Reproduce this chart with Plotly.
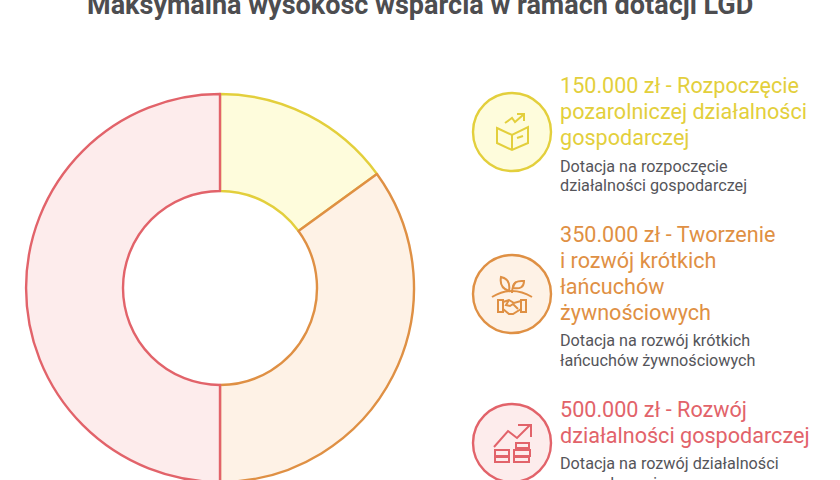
import plotly.graph_objects as go

# ---- data ----
categories = ["Rozpoczęcie pozarolniczej działalności gospodarczej",
              "Tworzenie i rozwój krótkich łańcuchów żywnościowych",
              "Rozwój działalności gospodarczej"]
values = [150000, 350000, 500000]
line_colors = ["#e3cf3c", "#df9044", "#e2636a"]
fill_colors = ["#fefcdc", "#fef2e6", "#fdecec"]
title_text = "Maksymalna wysokość wsparcia w ramach dotacji LGD"
heading_lines = [
    ["150.000 zł - Rozpoczęcie", "pozarolniczej działalności", "gospodarczej"],
    ["350.000 zł - Tworzenie", "i rozwój krótkich", "łańcuchów", "żywnościowych"],
    ["500.000 zł - Rozwój", "działalności gospodarczej"],
]
heading_y = [[85, 111, 137], [234, 260, 286, 312], [409, 435]]
desc_lines = [
    ["Dotacja na rozpoczęcie", "działalności gospodarczej"],
    ["Dotacja na rozwój krótkich", "łańcuchów żywnościowych"],
    ["Dotacja na rozwój działalności", "gospodarczej"],
]
desc_y = [[166, 185], [340, 360], [463, 483]]
circle_y = [132, 294, 443]

# icon outlines (decorative line-art, in pixel space of the invisible axes)
icon_paths = [
    [  # box with rising arrow
        "M497,128 L512,135 L528,127 L528,143 L512,150 L497,143 Z",
        "M512,135 L512,150",
        "M517,138 L523,136",
        "M505,123 L512,118 L515,122 L523,115",
        "M517,114 L524,114 L524,121",
    ],
    [  # sprout over handshake
        "M492,297 Q512,285 532,297",
        "M512,293 Q512,286 516,282",
        "M509,291 Q499,288 501,277 Q511,279 509,291 Z",
        "M513,288 Q513,280 524,281 Q524,290 513,288 Z",
        "M498,300 L503,300 L503,312 L498,312 Z",
        "M521,300 L526,300 L526,312 L521,312 Z",
        "M503,302 L509,300 L514,303 L521,301",
        "M503,309 L509,314 L513,314 L521,309",
        "M509,300 L506,305 L510,306 L513,304 L518,309",
    ],
    [  # coin stacks with rising arrow
        "M494,447 L508,431 L517,438 L530,425",
        "M518,425 L531,425 L531,437",
        "M495,450 L509,450 L509,456 L495,456 Z",
        "M495,457 L509,457 L509,462 L495,462 Z",
        "M516,443 L529,443 L529,448 L516,448 Z",
        "M514,450 L530,450 L530,456 L514,456 Z",
        "M514,457 L529,457 L529,462 L514,462 Z",
    ],
]

W, H = 840, 500
CX, CY, R = 220, 288, 194

fig = go.Figure()
fig.add_trace(go.Pie(
    labels=categories, values=values, sort=False, direction="clockwise", rotation=0,
    hole=0.5, textinfo="none", hoverinfo="label+value", showlegend=False,
    marker=dict(colors=fill_colors, line=dict(color=line_colors, width=2.4)),
    domain=dict(x=[(CX - R) / W, (CX + R) / W], y=[(H - CY - R) / H, (H - CY + R) / H]),
))

ann = [dict(text="<b>%s</b>" % title_text, x=420, y=4.5, xref="x", yref="y", xanchor="center",
            yanchor="middle", showarrow=False, font=dict(family="Roboto", size=27, color="#4d4d50"))]
for i, lines in enumerate(heading_lines):
    for t, y in zip(lines, heading_y[i]):
        ann.append(dict(text=t, x=558, y=y, xref="x", yref="y", xanchor="left", yanchor="middle",
                        showarrow=False, font=dict(family="Roboto", size=21.6, color=line_colors[i])))
for i, lines in enumerate(desc_lines):
    for t, y in zip(lines, desc_y[i]):
        ann.append(dict(text=t, x=557.5, y=y, xref="x", yref="y", xanchor="left", yanchor="middle",
                        showarrow=False, font=dict(family="Roboto", size=16.2, color="#55555a")))

shapes = []
for i, cy in enumerate(circle_y):
    shapes.append(dict(type="circle", xref="x", yref="y", x0=473, x1=551, y0=cy - 39, y1=cy + 39,
                       line=dict(color=line_colors[i], width=2.4), fillcolor=fill_colors[i]))
    for p in icon_paths[i]:
        shapes.append(dict(type="path", path=p, xref="x", yref="y",
                           line=dict(color=line_colors[i], width=2)))

fig.update_layout(width=W, height=H, margin=dict(l=0, r=0, t=0, b=0), paper_bgcolor="white",
                  plot_bgcolor="white", annotations=ann, shapes=shapes,
                  xaxis=dict(range=[0, W], visible=False, fixedrange=True),
                  yaxis=dict(range=[H, 0], visible=False, fixedrange=True))
fig.add_trace(go.Scatter(x=[0], y=[0], mode="markers", marker=dict(opacity=0), showlegend=False, hoverinfo="skip"))
fig.write_html("out.html", config=dict(displayModeBar=False),
               post_script="document.body.style.margin='0';document.documentElement.style.overflow='hidden';document.body.style.overflow='hidden';")
